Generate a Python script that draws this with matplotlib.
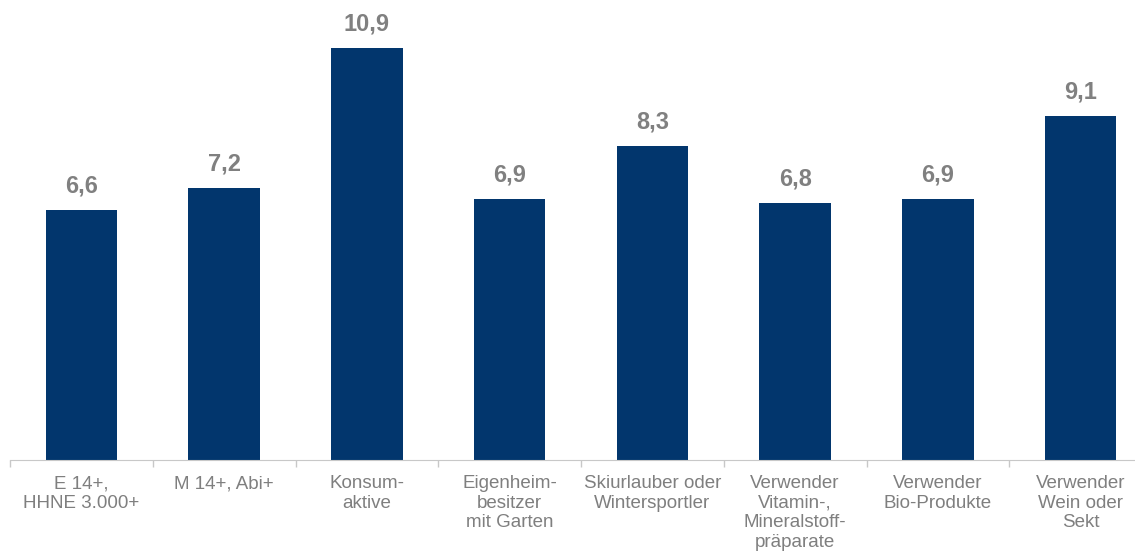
import matplotlib.pyplot as plt
import numpy as np

plt.rcParams['font.family'] = ['Liberation Sans', 'DejaVu Sans']

categories = [
    "E 14+,\nHHNE 3.000+",
    "M 14+, Abi+",
    "Konsum-\naktive",
    "Eigenheim-\nbesitzer\nmit Garten",
    "Skiurlauber oder\nWintersportler",
    "Verwender\nVitamin-,\nMineralstoff-\npräparate",
    "Verwender\nBio-Produkte",
    "Verwender\nWein oder\nSekt",
]
values = [6.6, 7.2, 10.9, 6.9, 8.3, 6.8, 6.9, 9.1]

fig = plt.figure(figsize=(11.35, 5.54), dpi=100)
# axes runs past the right edge, like the original
ax = fig.add_axes([10 / 1135, 94 / 554, 1142 / 1135, 454 / 554])

x = np.arange(len(values))
bars = ax.bar(x, values, width=0.5, color='#02366d')

for xi, v in zip(x, values):
    ax.text(xi, v + 0.33, f"{v:.1f}".replace('.', ','), ha='center', va='bottom',
            fontsize=17, fontweight='bold', color='#808080')

ax.set_xlim(-0.5, len(values) - 0.5)
ax.set_ylim(0, 12)
ax.set_xticks(x)
ax.set_xticklabels(categories, fontsize=13.5, color='#7f7f7f', linespacing=1.2)
ax.set_xticks(np.arange(-0.5, len(values)), minor=True)
ax.tick_params(axis='x', which='major', length=0, pad=11)
ax.tick_params(axis='x', which='minor', length=5, color='#c8c8c8', width=1)
ax.set_yticks([])

for s in ['top', 'right', 'left']:
    ax.spines[s].set_visible(False)
ax.spines['bottom'].set_color('#c8c8c8')

fig.savefig('out.png', dpi=100)
